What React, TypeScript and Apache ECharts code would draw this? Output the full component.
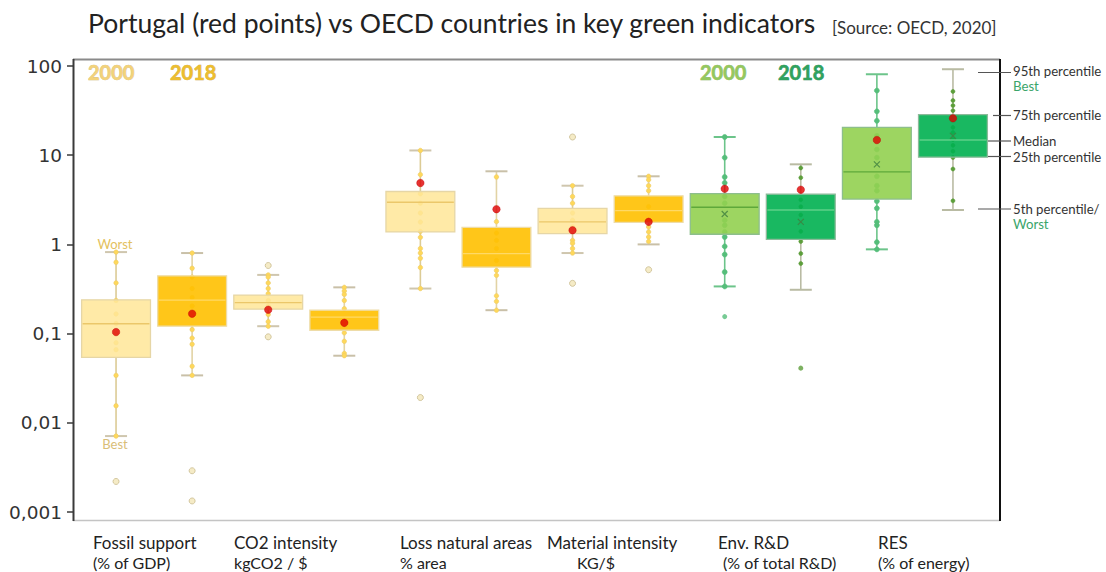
import React, { useEffect, useRef } from "react";
import * as echarts from "echarts";

// ---------- DATA ----------
const categories = [
  "Fossil support 2000", "Fossil support 2018",
  "CO2 intensity 2000", "CO2 intensity 2018",
  "Loss natural areas 2000", "Loss natural areas 2018",
  "Material intensity 2000", "Material intensity 2018",
  "Env. R&D 2000", "Env. R&D 2018",
  "RES 2000", "RES 2018",
];
const p5 = [0.0071, 0.034, 0.121, 0.0565, 0.32, 0.183, 0.8, 1.0, 0.338, 0.31, 0.88, 2.43];
const q1 = [0.054, 0.121, 0.188, 0.109, 1.38, 0.555, 1.32, 1.77, 1.3, 1.14, 3.22, 9.5];
const median = [0.129, 0.237, 0.223, 0.153, 2.97, 0.79, 1.79, 2.39, 2.61, 2.43, 6.5, 14.8];
const q3 = [0.239, 0.444, 0.27, 0.183, 3.92, 1.55, 2.54, 3.5, 3.7, 3.66, 20.5, 28.5];
const p95 = [0.82, 0.8, 0.455, 0.33, 11.3, 6.6, 4.55, 5.8, 16.0, 7.9, 80.8, 92];
const portugal = [0.104, 0.167, 0.185, 0.132, 4.88, 2.48, 1.44, 1.79, 4.2, 4.1, 14.8, 25.9];
const countryPoints = [
  [0.63, 0.37, 0.235, 0.166, 0.13, 0.1, 0.079, 0.066, 0.034, 0.0155, 0.0071, 0.82],
  [0.8, 0.54, 0.43, 0.32, 0.254, 0.204, 0.111, 0.089, 0.076, 0.043, 0.034],
  [0.455, 0.43, 0.37, 0.32, 0.28, 0.235, 0.204, 0.164, 0.136, 0.121],
  [0.33, 0.3, 0.275, 0.235, 0.19, 0.102, 0.082, 0.06, 0.0565],
  [11.3, 6.06, 3.69, 2.9, 2.25, 1.78, 1.4, 1.2, 0.9, 0.8, 0.7, 0.55, 0.32],
  [5.7, 1.8, 1.34, 1.11, 0.9, 0.66, 0.51, 0.45, 0.265, 0.23, 0.183],
  [4.55, 3.44, 2.9, 2.25, 1.87, 1.57, 1.11, 1.03, 0.9, 0.8],
  [5.8, 5.3, 4.55, 4.0, 2.65, 1.57, 1.38, 1.21, 1.08],
  [16.0, 9.4, 5.7, 4.9, 3.44, 2.9, 1.87, 1.64, 1.38, 1.21, 0.95, 0.77, 0.49, 0.338],
  [7.2, 5.6, 3.16, 2.65, 2.14, 1.4, 1.08, 0.79, 0.61],
  [53, 31, 24.3, 16.5, 11.6, 9.4, 5.8, 4.55, 4.0, 3.05, 2.54, 1.79, 1.64, 1.06, 0.88],
  [51.9, 41, 36, 31.6, 20.5, 18, 15, 12.9, 11.1, 9.4, 7.0, 3.08],
];
const outlierIndex = [0, 1, 1, 2, 2, 4, 6, 6, 7, 8, 9];
const outlierValue = [0.0022, 0.0029, 0.00133, 0.58, 0.092, 0.0192, 16.0, 0.366, 0.52, 0.155, 0.041];
const meanIndex = [8, 9, 10, 11];
const meanValue = [2.19, 1.79, 7.9, 16.5];
const yearLabels = ["2000", "2018", "2000", "2018"];
const groupLabelLine1 = ["Fossil support", "CO2 intensity", "Loss natural areas", "Material intensity", "Env. R&D", "RES"];
const groupLabelLine2 = ["(% of GDP)", "kgCO2 / $", "% area", "KG/$", " (% of total R&D)", "(% of energy)"];
const keyLabels = ["95th percentile", "Best", "75th percentile", "Median", "25th percentile", "5th percentile/", "Worst"];

// ---------- STYLES ----------
const boxGroup = [0, 1, 0, 1, 0, 1, 0, 1, 2, 3, 2, 3];
const palette = [
  { fill: "rgba(255,230,153,0.86)", stroke: "#E6D6A6", median: "#EBC76A", whisker: "#DCCB95", cap: "#CFC6AE", point: "#FFD85A", pointBorder: "#EBCB6A" },
  { fill: "rgba(255,192,0,0.9)", stroke: "#EEDCA8", median: "#FFD966", whisker: "#E2D3A4", cap: "#C9C0A8", point: "#FFD85A", pointBorder: "#EBCB6A" },
  { fill: "rgba(146,208,80,0.9)", stroke: "#8DBE8D", median: "#5EA83A", whisker: "#6CC48A", cap: "#6CC48A", point: "#55BE7A", pointBorder: "#55BE7A" },
  { fill: "rgba(0,176,80,0.9)", stroke: "#8DBA9A", median: "#5ED088", whisker: "#B9BBA3", cap: "#B9BBA3", point: "#5C9E3A", pointBorder: "#5C9E3A" },
];
const FONT = "Lato, 'Noto Sans', sans-serif";

export default function App() {
  const ref = useRef<HTMLDivElement>(null);

  useEffect(() => {
    const chart = echarts.init(ref.current!, null, { renderer: "svg" });

    const boxData = categories.map((_, i) => [i, p5[i], q1[i], median[i], q3[i], p95[i]]);

    const makeRender = (part: string) => (params: any, api: any) => {
      const idx = api.value(0);
      const st = palette[boxGroup[idx]];
      const bw = api.size([1, 1])[0] * 0.905;
      const lo = api.coord([idx, api.value(1)]);
      const b1 = api.coord([idx, api.value(2)]);
      const md = api.coord([idx, api.value(3)]);
      const b3 = api.coord([idx, api.value(4)]);
      const hi = api.coord([idx, api.value(5)]);
      const cx = md[0];
      if (part === "whisker") {
        const ws = { stroke: st.whisker, lineWidth: 1.6 };
        const cs = { stroke: st.cap, lineWidth: 2 };
        return {
          type: "group",
          children: [
            { type: "line", shape: { x1: cx, y1: hi[1], x2: cx, y2: b3[1] }, style: ws },
            { type: "line", shape: { x1: cx, y1: b1[1], x2: cx, y2: lo[1] }, style: ws },
            { type: "line", shape: { x1: cx - 11, y1: hi[1], x2: cx + 11, y2: hi[1] }, style: cs },
            { type: "line", shape: { x1: cx - 11, y1: lo[1], x2: cx + 11, y2: lo[1] }, style: cs },
          ],
        };
      }
      return {
        type: "group",
        children: [
          { type: "rect", shape: { x: cx - bw / 2, y: b3[1], width: bw, height: b1[1] - b3[1] }, style: { fill: st.fill, stroke: st.stroke, lineWidth: 1.3 } },
          { type: "line", shape: { x1: cx - bw / 2 + 1, y1: md[1], x2: cx + bw / 2 - 1, y2: md[1] }, style: { stroke: st.median, lineWidth: 1.3 } },
        ],
      };
    };

    const pointSeries = [0, 1, 2, 3].map((g) => {
      const data: number[][] = [];
      countryPoints.forEach((arr, i) => {
        if (boxGroup[i] === g) arr.forEach((v) => data.push([i, v]));
      });
      return {
        type: "scatter",
        z: 2,
        symbolSize: g === 3 ? 4 : g < 2 ? 4.5 : 5,
        itemStyle: { color: palette[g].point, borderColor: palette[g].pointBorder, borderWidth: 0.6, opacity: 1 },
        data,
      };
    });

    const outlierData = outlierIndex.map((i, k) => ({
      value: [i, outlierValue[k]],
      itemStyle: boxGroup[i] < 2
        ? { color: "#F3E6B8", borderColor: "#C9BB8E", borderWidth: 1 }
        : { color: palette[boxGroup[i]].point, borderColor: palette[boxGroup[i]].point, borderWidth: 0 },
      symbolSize: boxGroup[i] < 2 ? 6 : 5,
    }));

    const graphic: any[] = [];
    // frame
    graphic.push(
      { type: "line", shape: { x1: 73, y1: 59.5, x2: 1000, y2: 59.5 }, style: { stroke: "#8A8A8A", lineWidth: 2 } },
      { type: "line", shape: { x1: 73, y1: 520.5, x2: 1000, y2: 520.5 }, style: { stroke: "#C4C4C4", lineWidth: 1.5 } },
      { type: "line", shape: { x1: 73.5, y1: 59, x2: 73.5, y2: 521 }, style: { stroke: "#3A3A3A", lineWidth: 2 } },
      { type: "line", shape: { x1: 1000, y1: 59, x2: 1000, y2: 521 }, style: { stroke: "#111", lineWidth: 2 } }
    );
    // title
    graphic.push(
      { type: "text", x: 88, y: 23, style: { text: "Portugal (red points) vs OECD countries in key green indicators", font: `26.5px ${FONT}`, fill: "#222", verticalAlign: "middle" } },
      { type: "text", x: 832, y: 27, style: { text: "[Source: OECD, 2020]", font: `17px ${FONT}`, fill: "#333", verticalAlign: "middle" } }
    );
    // year legends
    const yearX = [88, 170, 700, 778];
    const yearColor = ["#F3D27A", "#EDBE2E", "#95C85E", "#2FA25E"];
    const yearBorder = ["#CDB672", "#C9A23A", "#86B062", "#2A8A54"];
    yearLabels.forEach((t, k) => {
      graphic.push({ type: "text", x: yearX[k], y: 72, style: { text: t, font: `bold 20px ${FONT}`, fill: yearColor[k], stroke: yearBorder[k], lineWidth: 0.6, verticalAlign: "middle" } });
    });
    // worst / best
    graphic.push(
      { type: "text", x: 115, y: 244, style: { text: "Worst", font: `13px ${FONT}`, fill: "#E3C15E", align: "center", verticalAlign: "middle" } },
      { type: "text", x: 115, y: 444, style: { text: "Best", font: `13px ${FONT}`, fill: "#D9BE78", align: "center", verticalAlign: "middle" } }
    );
    // category labels
    const l1x = [93, 234, 400, 547, 718, 878];
    const l2x = [93, 234, 400, 577, 719, 878];
    groupLabelLine1.forEach((t, k) => {
      graphic.push({ type: "text", x: l1x[k], y: 542, style: { text: t, font: `17px ${FONT}`, fill: "#222", verticalAlign: "middle" } });
      graphic.push({ type: "text", x: l2x[k], y: 562, style: { text: groupLabelLine2[k], font: `16px ${FONT}`, fill: "#222", verticalAlign: "middle" } });
    });
    // key annotations
    const keyY = [71, 86, 115, 141, 157, 209, 224];
    const keyColor = ["#333", "#3AA56A", "#333", "#333", "#333", "#333", "#3AA56A"];
    keyLabels.forEach((t, k) => {
      graphic.push({ type: "text", x: 1013, y: keyY[k], style: { text: t, font: `13.2px ${FONT}`, fill: keyColor[k], verticalAlign: "middle" } });
    });
    const keyLineY = [72.5, 115.5, 141, 156.5, 209];
    const keyLineX1 = [978, 993, 988, 987, 978];
    keyLineY.forEach((y, k) => {
      graphic.push({ type: "line", shape: { x1: keyLineX1[k], y1: y, x2: 1011, y2: y }, style: { stroke: "#555", lineWidth: 1.2 } });
    });

    const option: any = {
      animation: false,
      backgroundColor: "#fff",
      grid: { left: 78, right: 115, top: 66, bottom: 60, containLabel: false },
      xAxis: {
        type: "category",
        data: categories,
        boundaryGap: true,
        axisLine: { show: false },
        axisTick: { show: false },
        axisLabel: { show: false },
        splitLine: { show: false },
      },
      yAxis: {
        type: "log",
        logBase: 10,
        min: 0.001,
        max: 100,
        offset: 4,
        axisLine: { show: false },
        axisTick: { show: true, length: 7, lineStyle: { color: "#3A3A3A", width: 1.5 } },
        splitLine: { show: false },
        axisLabel: {
          margin: 12,
          color: "#333",
          fontFamily: "'DejaVu Sans', sans-serif",
          fontSize: 18.5,
          formatter: (v: number) => (v >= 1 ? String(Math.round(v)) : v.toFixed(Math.round(-Math.log10(v))).replace(".", ",")),
        },
      },
      graphic,
      series: [
        { type: "custom", z: 1, renderItem: makeRender("whisker"), encode: { x: 0, y: [1, 2, 3, 4, 5] }, data: boxData },
        ...pointSeries,
        { type: "scatter", z: 2, data: outlierData },
        { type: "custom", z: 3, renderItem: makeRender("box"), encode: { x: 0, y: [1, 2, 3, 4, 5] }, data: boxData },
        {
          type: "scatter",
          z: 4,
          symbol: "path://M0,0L10,10M10,0L0,10",
          symbolSize: 6,
          itemStyle: { color: "rgba(0,0,0,0)", borderColor: "#3F7F3F", borderWidth: 1.2 },
          data: meanIndex.map((i, k) => [i, meanValue[k]]),
        },
        {
          type: "scatter",
          z: 5,
          symbolSize: 7.5,
          itemStyle: { color: "#E00000", borderColor: "#C00000", borderWidth: 0.5 },
          data: portugal.map((v, i) => [i, v]),
        },
      ],
    };

    chart.setOption(option);
    return () => chart.dispose();
  }, []);

  return <div ref={ref} style={{ position: "fixed", left: 0, top: 0, width: 1106, height: 572, background: "#fff" }} />;
}
